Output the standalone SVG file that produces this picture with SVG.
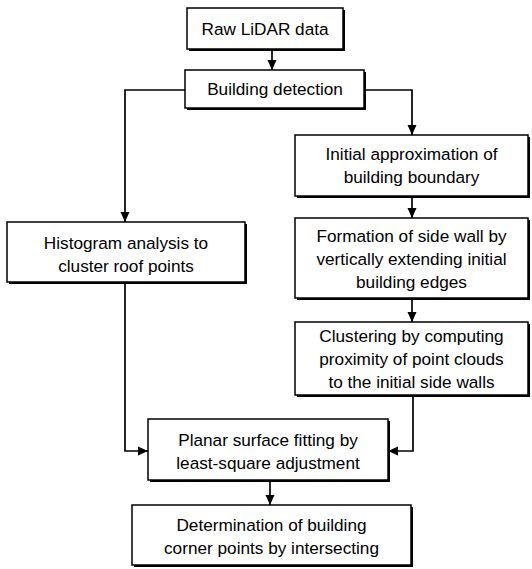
<svg xmlns="http://www.w3.org/2000/svg" width="532" height="569" viewBox="0 0 532 569">
<style>
.box{fill:#fff;stroke:#000;stroke-width:1.5}
.sh{fill:#000}
.t{font-family:"Liberation Sans",Arial,sans-serif;font-size:17.2px;text-anchor:middle;fill:#000}
.c{fill:none;stroke:#000;stroke-width:1.7}
</style>
<defs>
<marker id="ah" markerUnits="userSpaceOnUse" markerWidth="10" markerHeight="10" viewBox="0 0 10 10" refX="10" refY="5" orient="auto">
<path d="M0,0.5 L10,5 L0,9.5 Z" fill="#000"/>
</marker>
</defs>
<rect width="532" height="569" fill="#fff"/>
<g id="connectors">
<path class="c" d="M272,50 V70" marker-end="url(#ah)"/>
<path class="c" d="M185,90 H125 V222" marker-end="url(#ah)"/>
<path class="c" d="M364,90 H412 V135" marker-end="url(#ah)"/>
<path class="c" d="M412,196 V218" marker-end="url(#ah)"/>
<path class="c" d="M412,298 V322" marker-end="url(#ah)"/>
<path class="c" d="M125,282 V451 H148" marker-end="url(#ah)"/>
<path class="c" d="M413,395 V451 H388" marker-end="url(#ah)"/>
<path class="c" d="M270,480 V505" marker-end="url(#ah)"/>
</g>
<g id="raw">
<rect class="sh" x="189" y="10" width="156" height="41"/>
<rect class="box" x="187" y="8" width="156" height="41"/>
<text class="t" x="265" y="35">Raw LiDAR data</text>
</g>
<g id="detect">
<rect class="sh" x="187" y="72" width="179" height="38"/>
<rect class="box" x="185" y="70" width="179" height="38"/>
<text class="t" x="275" y="95">Building detection</text>
</g>
<g id="initial">
<rect class="sh" x="297" y="137" width="233" height="61"/>
<rect class="box" x="295" y="135" width="233" height="61"/>
<text class="t" x="411.5" y="160">Initial approximation of</text>
<text class="t" x="411.5" y="183">building boundary</text>
</g>
<g id="formation">
<rect class="sh" x="297" y="220" width="233" height="80"/>
<rect class="box" x="295" y="218" width="233" height="80"/>
<text class="t" x="411.5" y="242">Formation of side wall by</text>
<text class="t" x="411.5" y="265">vertically extending initial</text>
<text class="t" x="411.5" y="288">building edges</text>
</g>
<g id="clustering">
<rect class="sh" x="297" y="324" width="233" height="73"/>
<rect class="box" x="295" y="322" width="233" height="73"/>
<text class="t" x="411.5" y="342">Clustering by computing</text>
<text class="t" x="411.5" y="365">proximity of point clouds</text>
<text class="t" x="411.5" y="388">to the initial side walls</text>
</g>
<g id="histogram">
<rect class="sh" x="9" y="224" width="238" height="60"/>
<rect class="box" x="7" y="222" width="238" height="60"/>
<text class="t" x="126" y="249">Histogram analysis to</text>
<text class="t" x="126" y="272">cluster roof points</text>
</g>
<g id="planar">
<rect class="sh" x="150" y="421" width="240" height="61"/>
<rect class="box" x="148" y="419" width="240" height="61"/>
<text class="t" x="268" y="446">Planar surface fitting by</text>
<text class="t" x="268" y="469">least-square adjustment</text>
</g>
<g id="determination">
<rect class="sh" x="134" y="507" width="279" height="60"/>
<rect class="box" x="132" y="505" width="279" height="60"/>
<text class="t" x="271.5" y="531">Determination of building</text>
<text class="t" x="271.5" y="554">corner points by intersecting</text>
</g>
</svg>
